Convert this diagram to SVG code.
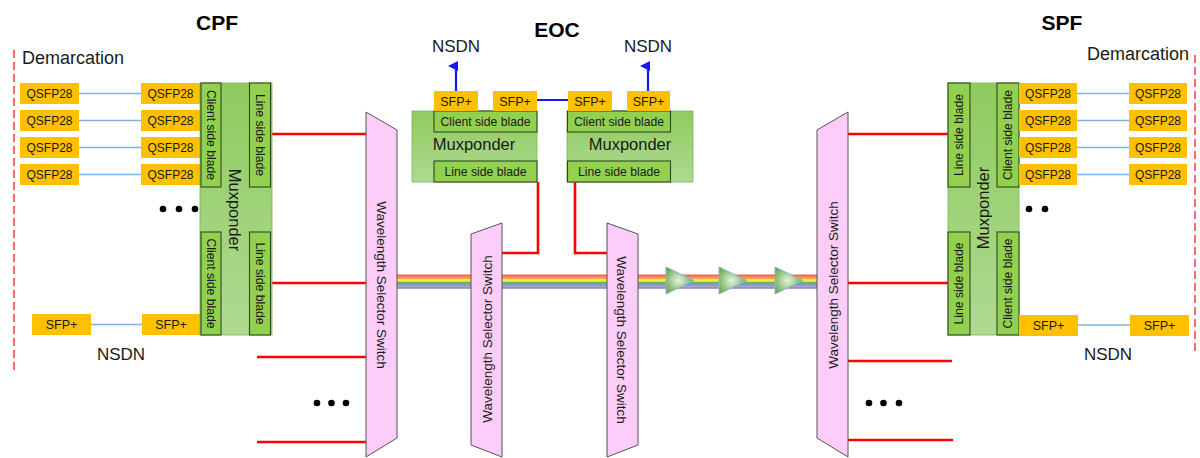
<svg xmlns="http://www.w3.org/2000/svg" width="1200" height="458" viewBox="0 0 1200 458">
<style>
text{font-family:"Liberation Sans",Arial,sans-serif;fill:#1a1a1a}
.title{font-size:21px;font-weight:bold;text-anchor:middle;fill:#000}
.lbl{font-size:17px;text-anchor:middle}
.demarc{font-size:18px}
.q{fill:#FFC000}
.qt{font-size:12px;text-anchor:middle}
.st{font-size:12.5px;text-anchor:middle}
.mux{fill:url(#muxg);stroke:#7BB356;stroke-width:0.8}
.blade{fill:#92D050;stroke:#2E4A1C;stroke-width:1.1}
.bt{font-size:12.2px;text-anchor:middle}
.mt{font-size:16.5px;text-anchor:middle}
.wss{fill:#FBCDF8;stroke:#555;stroke-width:1}
.wt{font-size:13.5px;text-anchor:middle}
.red{stroke:#FF0000;stroke-width:2.6;fill:none}
.lb{stroke:#7FB2E5;stroke-width:1.5}
.dash{stroke:#F0474B;stroke-width:1.6;stroke-dasharray:8 4}
.amp{fill:url(#ampg);stroke:#8DB3D9;stroke-width:1}
.dot{fill:#000}
</style>
<defs>
<linearGradient id="muxg" x1="0" y1="0" x2="0" y2="1">
<stop offset="0" stop-color="#8FCB5E"/>
<stop offset="1" stop-color="#AEDA92"/>
</linearGradient>
<radialGradient id="ampg" cx="0.45" cy="0.5" r="0.6">
<stop offset="0" stop-color="#E6F4DE"/>
<stop offset="1" stop-color="#5EA444"/>
</radialGradient>
<marker id="arr" markerWidth="10" markerHeight="10" refX="5" refY="8" orient="auto-start-reverse" markerUnits="userSpaceOnUse" viewBox="0 0 10 10">
<path d="M0,10 L5,0 L10,10 Z" fill="#1818F0"/>
</marker>
</defs>

<!-- titles -->
<text class="title" x="217" y="30">CPF</text>
<text class="title" x="557" y="37">EOC</text>
<text class="title" x="1062" y="30">SPF</text>
<text class="demarc" x="22" y="64">Demarcation</text>
<text class="demarc" x="1087" y="60">Demarcation</text>

<!-- demarcation lines -->
<line class="dash" x1="14" y1="50" x2="14" y2="370"/>
<line class="dash" x1="1195" y1="55" x2="1195" y2="355"/>

<!-- connectors -->
<g id="connectors">
<line class="lb" x1="79" y1="93.5" x2="141" y2="93.5"/>
<line class="lb" x1="79" y1="120.5" x2="141" y2="120.5"/>
<line class="lb" x1="79" y1="147.5" x2="141" y2="147.5"/>
<line class="lb" x1="79" y1="174.5" x2="141" y2="174.5"/>
<line class="lb" x1="91" y1="324.5" x2="142" y2="324.5"/>
<line class="lb" x1="1077" y1="93.5" x2="1129" y2="93.5"/>
<line class="lb" x1="1077" y1="120.5" x2="1129" y2="120.5"/>
<line class="lb" x1="1077" y1="147.5" x2="1129" y2="147.5"/>
<line class="lb" x1="1077" y1="174.5" x2="1129" y2="174.5"/>
<line class="lb" x1="1078" y1="325" x2="1130" y2="325"/>
<line x1="537" y1="100" x2="568" y2="100" stroke="#1818F0" stroke-width="2"/>
<line x1="456" y1="91" x2="456" y2="66" stroke="#1818F0" stroke-width="2.2" marker-end="url(#arr)"/>
<line x1="648" y1="91" x2="648" y2="66" stroke="#1818F0" stroke-width="2.2" marker-end="url(#arr)"/>
<line class="red" x1="271" y1="134" x2="367" y2="134"/>
<line class="red" x1="271" y1="283" x2="367" y2="283"/>
<line class="red" x1="257" y1="357" x2="367" y2="357"/>
<line class="red" x1="257" y1="442" x2="367" y2="442"/>
<line class="red" x1="847" y1="134" x2="948" y2="134"/>
<line class="red" x1="847" y1="283" x2="948" y2="283"/>
<line class="red" x1="847" y1="361" x2="952" y2="361"/>
<line class="red" x1="847" y1="440" x2="953" y2="440"/>
<polyline class="red" points="538,182 538,253 501,253"/>
<polyline class="red" points="575,182 575,253 608,253"/>
<g id="rainbow">
<rect x="397" y="274.5" width="420" height="2.4" fill="#EE6A55"/>
<rect x="397" y="276.9" width="420" height="2.3" fill="#F7A23A"/>
<rect x="397" y="279.2" width="420" height="2.6" fill="#FFE23A"/>
<rect x="397" y="281.8" width="420" height="2.2" fill="#5DB85A"/>
<rect x="397" y="284" width="420" height="2.3" fill="#7FA3C6"/>
<rect x="397" y="286.3" width="420" height="2.5" fill="#9A8CC4"/>
</g>
</g>

<!-- CPF -->
<g id="cpf-qsfp-left">
<rect class="q" x="20" y="83" width="59" height="21"/><text class="qt" x="49.5" y="98">QSFP28</text>
<rect class="q" x="20" y="110" width="59" height="21"/><text class="qt" x="49.5" y="125">QSFP28</text>
<rect class="q" x="20" y="137" width="59" height="21"/><text class="qt" x="49.5" y="152">QSFP28</text>
<rect class="q" x="20" y="164" width="59" height="21"/><text class="qt" x="49.5" y="179">QSFP28</text>
</g>
<g id="cpf-qsfp-right">
<rect class="q" x="141" y="83" width="59" height="21"/><text class="qt" x="170.5" y="98">QSFP28</text>
<rect class="q" x="141" y="110" width="59" height="21"/><text class="qt" x="170.5" y="125">QSFP28</text>
<rect class="q" x="141" y="137" width="59" height="21"/><text class="qt" x="170.5" y="152">QSFP28</text>
<rect class="q" x="141" y="164" width="59" height="21"/><text class="qt" x="170.5" y="179">QSFP28</text>
</g>
<g id="cpf-sfp">
<rect class="q" x="32" y="314" width="59" height="21"/><text class="st" x="61.5" y="329">SFP+</text>
<rect class="q" x="142" y="314" width="58" height="21"/><text class="st" x="171" y="329">SFP+</text>
<text class="lbl" x="121" y="360">NSDN</text>
</g>
<g id="cpf-muxponder">
<rect class="mux" x="200" y="83" width="72" height="252"/>
<rect class="blade" x="201" y="83" width="20" height="104"/>
<rect class="blade" x="249.5" y="83" width="21" height="104"/>
<rect class="blade" x="201" y="232" width="20" height="103"/>
<rect class="blade" x="249.5" y="232" width="21" height="103"/>
<text class="bt" transform="translate(211,135) rotate(90)" y="4">Client side blade</text>
<text class="bt" transform="translate(260,135) rotate(90)" y="4">Line side blade</text>
<text class="bt" transform="translate(211,283.5) rotate(90)" y="4">Client side blade</text>
<text class="bt" transform="translate(260,283.5) rotate(90)" y="4">Line side blade</text>
<text class="mt" transform="translate(235,210) rotate(90)" y="6">Muxponder</text>
</g>
<g id="cpf-dots">
<circle class="dot" cx="163" cy="209" r="3.3"/><circle class="dot" cx="179" cy="209" r="3.3"/><circle class="dot" cx="195" cy="209" r="3.3"/>
<circle class="dot" cx="317" cy="403" r="3.3"/><circle class="dot" cx="331.5" cy="403" r="3.3"/><circle class="dot" cx="346" cy="403" r="3.3"/>
</g>

<!-- WSS -->
<g id="wss1">
<polygon class="wss" points="366,112 397,130 397,438 366,457"/>
<text class="wt" transform="translate(382,285) rotate(90)" y="5">Wavelength Selector Switch</text>
</g>
<g id="wss2">
<polygon class="wss" points="471,234 502,223 502,457 471,445"/>
<text class="wt" transform="translate(487,339) rotate(-90)" y="5">Wavelength Selector Switch</text>
</g>
<g id="wss3">
<polygon class="wss" points="607,223 638,234 638,445 607,457"/>
<text class="wt" transform="translate(622,340) rotate(90)" y="5">Wavelength Selector Switch</text>
</g>
<g id="wss4">
<polygon class="wss" points="817,130 848,112 848,457 817,438"/>
<text class="wt" transform="translate(833,285) rotate(-90)" y="5">Wavelength Selector Switch</text>
</g>

<!-- amplifiers -->
<g id="amp1"><polygon class="amp" points="666,267 666,294 694,280.5"/></g>
<g id="amp2"><polygon class="amp" points="719,267 719,294 747,280.5"/></g>
<g id="amp3"><polygon class="amp" points="775,267 775,294 803,280.5"/></g>

<!-- EOC -->
<g id="eoc-nsdn">
<text class="lbl" x="456" y="52">NSDN</text>
<text class="lbl" x="648" y="52">NSDN</text>
</g>
<g id="eoc-mux-left">
<rect class="mux" x="412" y="111" width="125" height="71"/>
<rect class="blade" x="434" y="111" width="103" height="21"/>
<rect class="blade" x="434" y="161" width="103" height="21"/>
<text class="bt" x="485.5" y="126">Client side blade</text>
<text class="bt" x="485.5" y="176">Line side blade</text>
<text class="mt" x="474" y="150">Muxponder</text>
<rect class="q" x="434" y="91" width="44" height="20"/><text class="st" x="456" y="105.5">SFP+</text>
<rect class="q" x="493" y="91" width="44" height="20"/><text class="st" x="515" y="105.5">SFP+</text>
</g>
<g id="eoc-mux-right">
<rect class="mux" x="567" y="111" width="126" height="71"/>
<rect class="blade" x="567.5" y="111" width="103" height="21"/>
<rect class="blade" x="567.5" y="161" width="103" height="21"/>
<text class="bt" x="619" y="126">Client side blade</text>
<text class="bt" x="619" y="176">Line side blade</text>
<text class="mt" x="630" y="150">Muxponder</text>
<rect class="q" x="568" y="91" width="44" height="20"/><text class="st" x="590" y="105.5">SFP+</text>
<rect class="q" x="627" y="91" width="43" height="20"/><text class="st" x="648.5" y="105.5">SFP+</text>
</g>

<!-- SPF -->
<g id="spf-muxponder">
<rect class="mux" x="948" y="83" width="71" height="252"/>
<rect class="blade" x="948" y="83" width="22" height="104"/>
<rect class="blade" x="997" y="83" width="22" height="104"/>
<rect class="blade" x="948" y="232" width="22" height="103"/>
<rect class="blade" x="997" y="232" width="22" height="103"/>
<text class="bt" transform="translate(959,135) rotate(-90)" y="4">Line side blade</text>
<text class="bt" transform="translate(1008,135) rotate(-90)" y="4">Client side blade</text>
<text class="bt" transform="translate(959,283.5) rotate(-90)" y="4">Line side blade</text>
<text class="bt" transform="translate(1008,283.5) rotate(-90)" y="4">Client side blade</text>
<text class="mt" transform="translate(983,208) rotate(-90)" y="6">Muxponder</text>
</g>
<g id="spf-qsfp-left">
<rect class="q" x="1019" y="83" width="58" height="21"/><text class="qt" x="1048" y="98">QSFP28</text>
<rect class="q" x="1019" y="110" width="58" height="21"/><text class="qt" x="1048" y="125">QSFP28</text>
<rect class="q" x="1019" y="137" width="58" height="21"/><text class="qt" x="1048" y="152">QSFP28</text>
<rect class="q" x="1019" y="164" width="58" height="21"/><text class="qt" x="1048" y="179">QSFP28</text>
</g>
<g id="spf-qsfp-right">
<rect class="q" x="1129" y="83" width="58" height="21"/><text class="qt" x="1158" y="98">QSFP28</text>
<rect class="q" x="1129" y="110" width="58" height="21"/><text class="qt" x="1158" y="125">QSFP28</text>
<rect class="q" x="1129" y="137" width="58" height="21"/><text class="qt" x="1158" y="152">QSFP28</text>
<rect class="q" x="1129" y="164" width="58" height="21"/><text class="qt" x="1158" y="179">QSFP28</text>
</g>
<g id="spf-sfp">
<rect class="q" x="1019" y="315" width="59" height="21"/><text class="st" x="1048.5" y="330">SFP+</text>
<rect class="q" x="1130" y="315" width="59" height="21"/><text class="st" x="1159.5" y="330">SFP+</text>
<text class="lbl" x="1108" y="360">NSDN</text>
</g>
<g id="spf-dots">
<circle class="dot" cx="1029" cy="209" r="3.3"/><circle class="dot" cx="1045" cy="209" r="3.3"/>
<circle class="dot" cx="869" cy="403" r="3.3"/><circle class="dot" cx="883.5" cy="403" r="3.3"/><circle class="dot" cx="899" cy="403" r="3.3"/>
</g>
</svg>
